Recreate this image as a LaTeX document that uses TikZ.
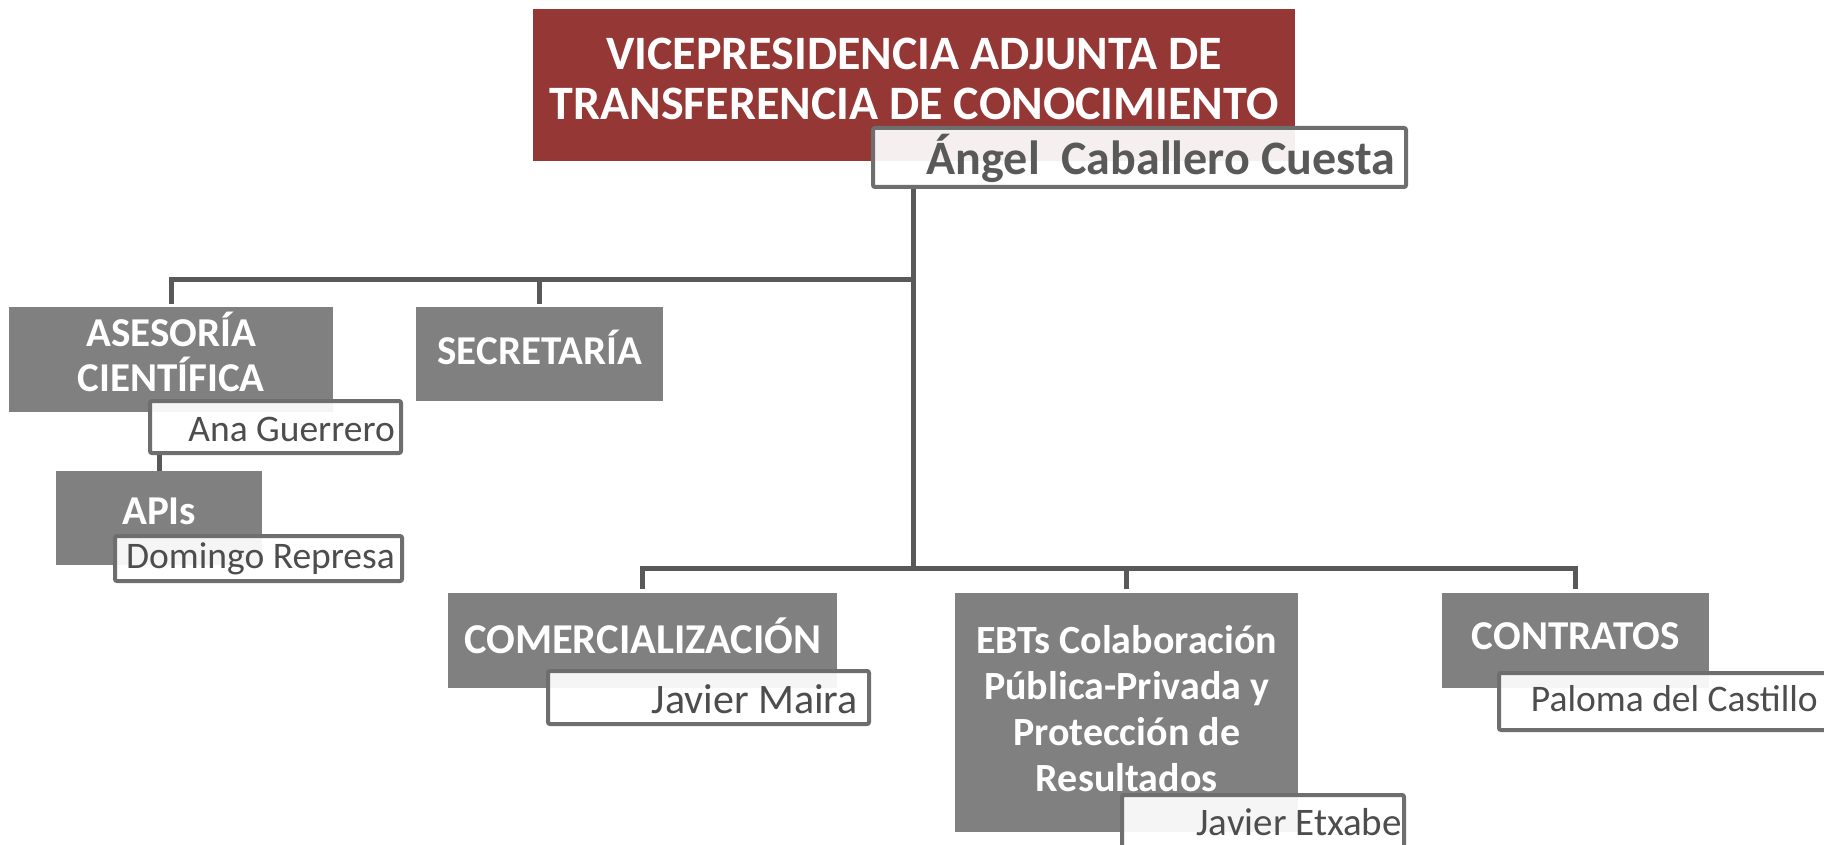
\documentclass[tikz,border=0pt]{standalone}
\usepackage{fontspec}
\setmainfont{Carlito}
\usetikzlibrary{calc}
\definecolor{vpred}{HTML}{953735}
\definecolor{boxgray}{HTML}{808080}
\definecolor{linegray}{HTML}{595959}
\definecolor{framegray}{HTML}{6E6E6E}
\definecolor{nametext}{HTML}{4D4D4D}
\begin{document}
\begin{tikzpicture}[x=1pt,y=-1pt,
  gbox/.style={fill=boxgray, draw=none, anchor=north west, inner sep=0pt},
  rbox/.style={fill=vpred, draw=none, anchor=north west, inner sep=0pt},
  namebox/.style={fill=white, fill opacity=0.92, draw=framegray, line width=4pt, rounded corners=2pt, anchor=north west, inner sep=0pt},
  gtext/.style={text=white, font=\fontsize{41}{45}\selectfont\bfseries, align=center, inner sep=0pt},
  titletext/.style={text=white, font=\fontsize{48}{50}\selectfont\bfseries, align=center, inner sep=0pt},
  bosstext/.style={text=linegray, font=\fontsize{48}{50}\selectfont\bfseries, anchor=east, inner sep=0pt},
  nametxt/.style={text=nametext, font=\fontsize{37.5}{40}\selectfont, anchor=east, inner sep=0pt},
  conn/.style={draw=linegray, line width=5pt, line join=miter}]
\useasboundingbox (0,0) rectangle (1824,845);

% boxes
\node[rbox, minimum width=762, minimum height=152] (vp) at (533,9) {};
\node[gbox, minimum width=324, minimum height=105] (ases) at (9,307) {};
\node[gbox, minimum width=206, minimum height=94] (apis) at (56,471) {};
\node[gbox, minimum width=247, minimum height=94] (secr) at (416,307) {};
\node[gbox, minimum width=389, minimum height=95] (com) at (448,593) {};
\node[gbox, minimum width=343, minimum height=239] (ebt) at (955,593) {};
\node[gbox, minimum width=267, minimum height=95] (con) at (1442,593) {};

% connectors
\coordinate (t0) at (913,186);
\coordinate (bus1) at (913,280);
\coordinate (bus2) at (913,568);
\draw[conn] (t0) -- (bus2);
\draw[conn] (bus1) -| ($(ases.north)+(0,-3)$);
\draw[conn] (bus1) -| ($(secr.north)+(0,-3)$);
\draw[conn] (bus2) -| ($(com.north)+(0,-4)$);
\draw[conn] (bus2) -| ($(ebt.north)+(0,-4)$);
\draw[conn] (bus2) -| ($(con.north)+(0,-4)$);

% name boxes
\node[namebox, minimum width=533, minimum height=59] (angel) at (871,126) {};
\node[namebox, minimum width=251, minimum height=52] (ana) at (148,399) {};
\draw[conn] (ana.south -| apis.north) -- (apis.north);
\node[namebox, minimum width=287, minimum height=45] (dom) at (113,534) {};
\node[namebox, minimum width=321, minimum height=53] (jm) at (546,669) {};
\node[namebox, minimum width=282, minimum height=80] (je) at (1120,793) {};
\node[namebox, minimum width=340, minimum height=57] (pal) at (1497,671) {};

% texts
\node[titletext] (vpt) at (914,79) {VICEPRESIDENCIA ADJUNTA DE\\TRANSFERENCIA DE CONOCIMIENTO};
\node[bosstext] (angelt) at ($(angel.east)+(-13,1)$) {Ángel\ \ Caballero Cuesta};
\node[gtext] (asest) at ($(ases.center)+(0,-8)$) {ASESORÍA\\CIENTÍFICA};
\node[gtext] (secrt) at ($(secr.center)+(0,-7)$) {SECRETARÍA};
\node[gtext] (apist) at ($(apis.center)+(0,-7)$) {APIs};
\node[gtext, font=\fontsize{42.5}{45}\selectfont\bfseries] (comt) at ($(com.center)+(0,-5)$) {COMERCIALIZACIÓN};
\node[gtext, font=\fontsize{40}{46}\selectfont\bfseries] (ebtt) at ($(ebt.center)+(0,-4)$) {EBTs Colaboración\\Pública-Privada y\\Protección de\\Resultados};
\node[gtext] (cont) at ($(con.center)+(0,-5)$) {CONTRATOS};
\node[nametxt] (anat) at ($(ana.east)+(-8,2)$) {Ana Guerrero};
\node[nametxt] (domt) at ($(dom.east)+(-9,0)$) {Domingo Represa};
\node[nametxt, font=\fontsize{42}{44}\selectfont] (jmt) at ($(jm.east)+(-13,2)$) {Javier Maira};
\node[nametxt, font=\fontsize{39}{42}\selectfont] (jet) at (1402,822) {Javier Etxabe};
\node[nametxt] (palt) at (1818,699) {Paloma del Castillo};
\end{tikzpicture}
\end{document}
